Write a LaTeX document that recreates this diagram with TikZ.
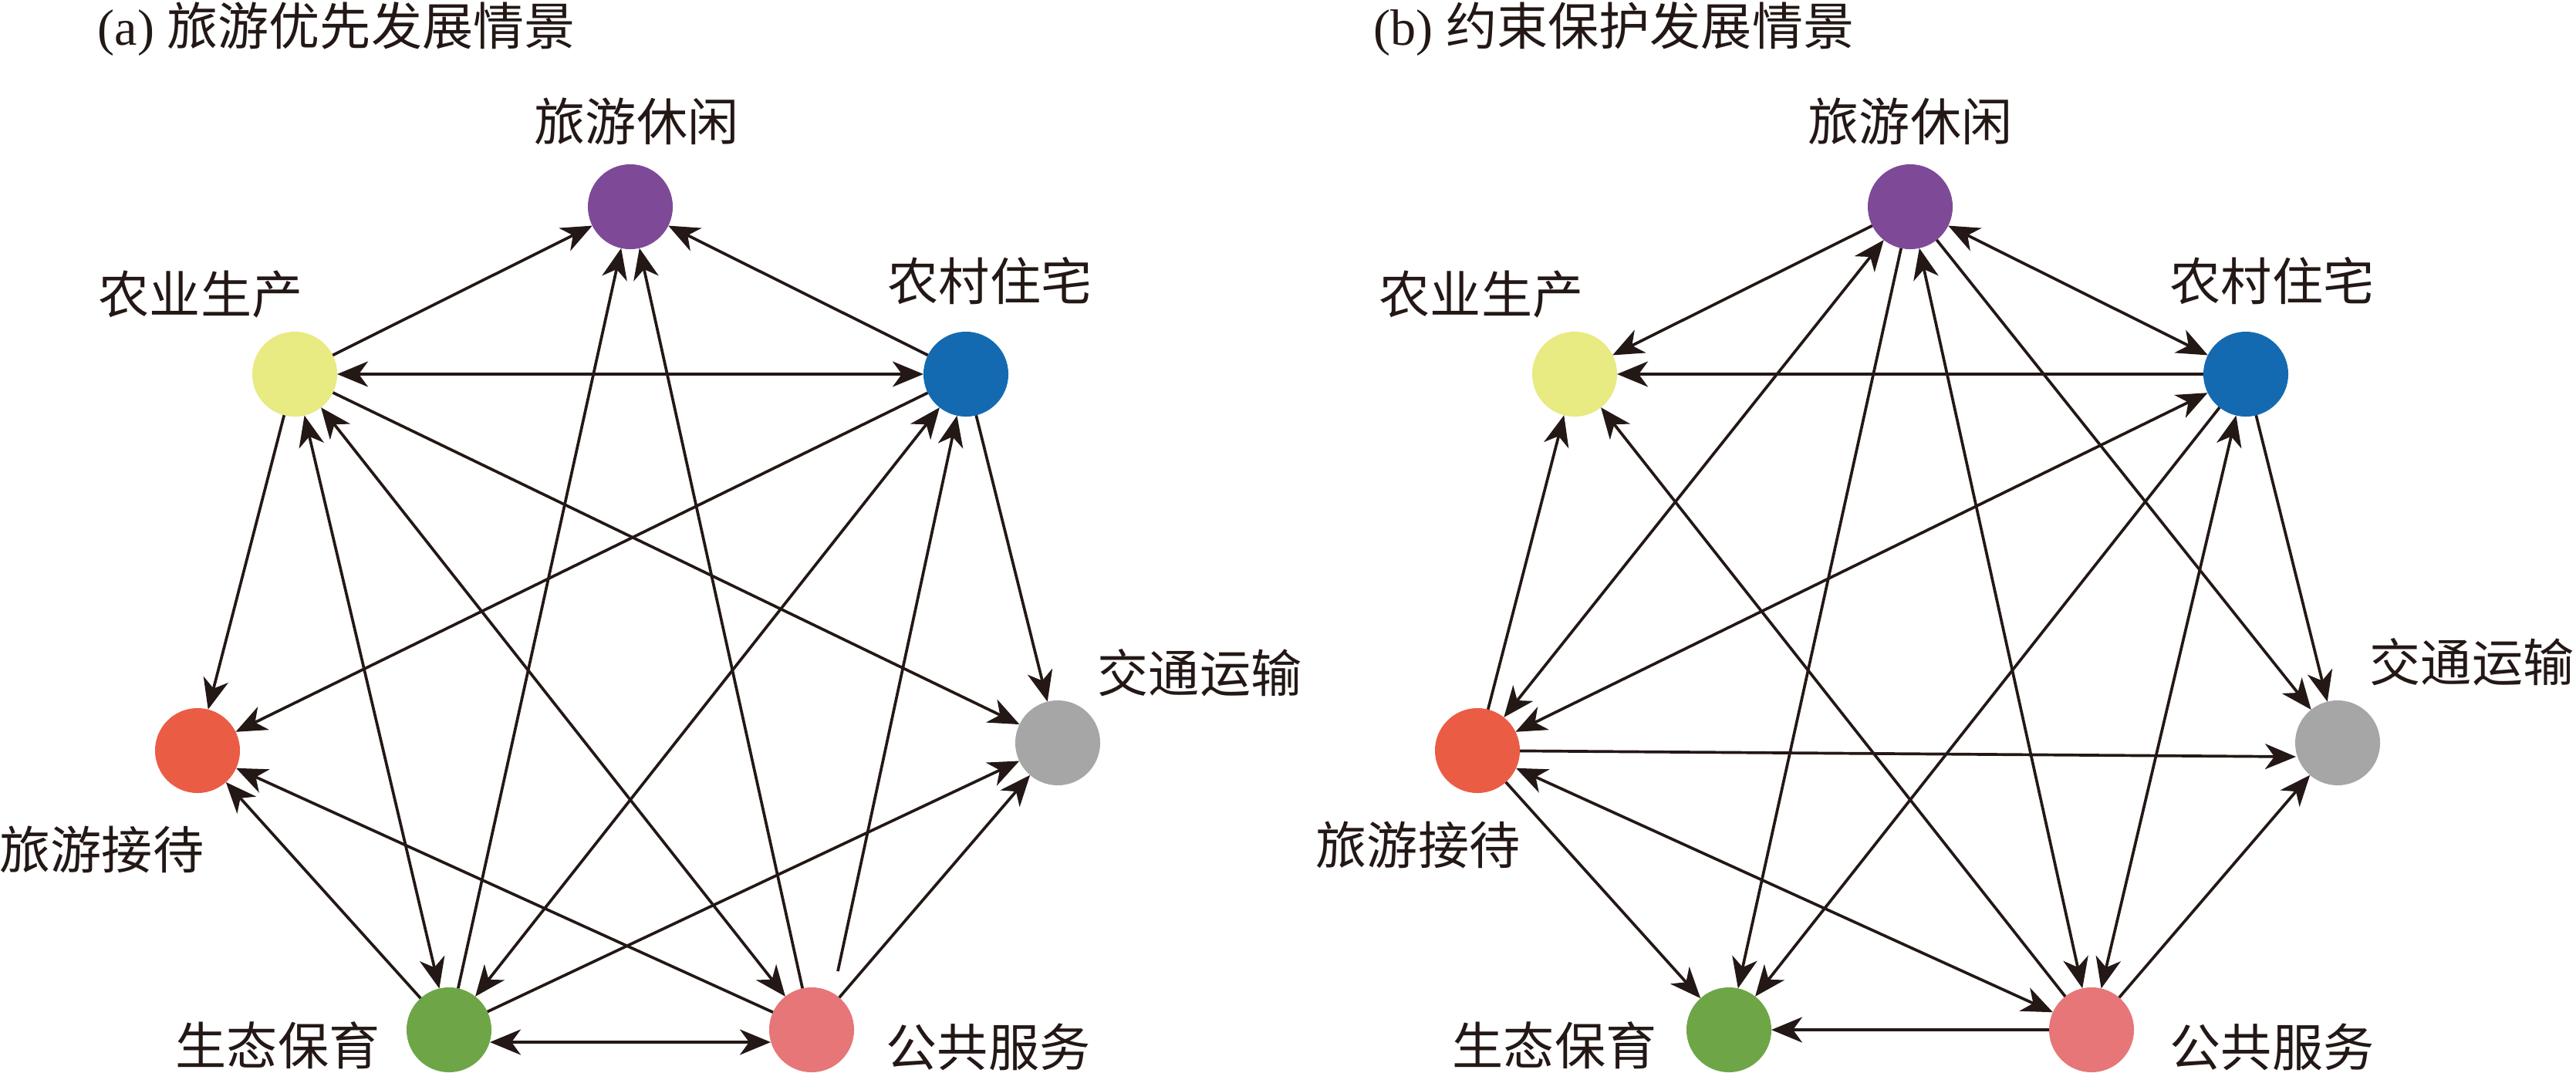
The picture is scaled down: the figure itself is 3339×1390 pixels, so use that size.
\documentclass[tikz,border=0pt]{standalone}
\usepackage{fontspec}
\setmainfont{Liberation Serif}
\newfontfamily\cjk{Noto Sans CJK SC}
\usetikzlibrary{arrows.meta}
\definecolor{cpurple}{RGB}{126,74,152}
\definecolor{cyellow}{RGB}{232,234,130}
\definecolor{cblue}{RGB}{20,106,176}
\definecolor{cred}{RGB}{234,93,68}
\definecolor{cgray}{RGB}{166,166,166}
\definecolor{cgreen}{RGB}{110,166,71}
\definecolor{cpink}{RGB}{230,118,120}
\definecolor{linec}{RGB}{35,24,21}
\tikzset{hd/.tip={Stealth[length=4mm,width=3.3mm,inset=1.2mm]}}
\begin{document}
\begin{tikzpicture}[x=0.01cm,y=-0.01cm,
  dot/.style={circle,minimum size=1.1cm,inner sep=0pt,outer sep=0pt,draw=none},
  lbl/.style={inner sep=0pt,font=\cjk\fontsize{18.8}{22}\selectfont,text=linec},
  ttl/.style={inner sep=0pt,anchor=west,font=\fontsize{18.8}{22}\selectfont,text=linec},
  edge/.style={line width=1.05pt,draw=linec,-hd},
  bi/.style={line width=1.05pt,draw=linec,hd-hd},
  plain/.style={line width=1.05pt,draw=linec}
]
\fill[white] (0,0) rectangle (3339,1390);
\useasboundingbox (0,0) rectangle (3339,1390);

% titles
\node[ttl] (ta) at (126,38) {(a) {\cjk 旅游优先发展情景}};
\node[ttl] (tb) at (1780,38) {(b) {\cjk 约束保护发展情景}};

% panel a nodes
\node[dot,fill=cpurple] (aP)  at (817,268) {};
\node[dot,fill=cyellow] (aY)  at (382,485) {};
\node[dot,fill=cblue]   (aB)  at (1252,485) {};
\node[dot,fill=cred]    (aR)  at (256,973) {};
\node[dot,fill=cgray]   (aGy) at (1371,963) {};
\node[dot,fill=cgreen]  (aGn) at (582,1335) {};
\node[dot,fill=cpink]   (aPk) at (1052,1335) {};

% panel a labels
\node[lbl] (laP)  at (825,157) {旅游休闲};
\node[lbl] (laY)  at (260,382) {农业生产};
\node[lbl] (laB)  at (1283,364) {农村住宅};
\node[lbl] (laR)  at (132,1101) {旅游接待};
\node[lbl] (laGy) at (1555,872) {交通运输};
\node[lbl] (laGn) at (360,1355) {生态保育};
\node[lbl] (laPk) at (1281,1357) {公共服务};

% panel a helper coordinates
\coordinate (aPB) at (1086,1259);
\coordinate (aGP) at (635,1351);
\coordinate (aPG) at (999,1351);

% panel a edges
\draw[edge] (aY) -- (aP);
\draw[edge] (aB) -- (aP);
\draw[edge] (aGn) -- (aP);
\draw[edge] (aPk) -- (aP);
\draw[bi] (aY) -- (aB);
\draw[edge] (aY) -- (aR);
\draw[bi] (aY) -- (aGn);
\draw[bi] (aY) -- (aPk);
\draw[edge] (aY) -- (aGy);
\draw[edge] (aB) -- (aR);
\draw[bi] (aB) -- (aGn);
\draw[edge] (aPB) -- (aB);
\draw[edge] (aB) -- (aGy);
\draw[edge] (aPk) -- (aR);
\draw[edge] (aGn) -- (aR);
\draw[edge] (aGn) -- (aGy);
\draw[edge] (aPk) -- (aGy);
\draw[bi] (aGP) -- (aPG);

% panel b nodes
\node[dot,fill=cpurple] (bP)  at (2476,268) {};
\node[dot,fill=cyellow] (bY)  at (2041,485) {};
\node[dot,fill=cblue]   (bB)  at (2911,485) {};
\node[dot,fill=cred]    (bR)  at (1915,973) {};
\node[dot,fill=cgray]   (bGy) at (3030,963) {};
\node[dot,fill=cgreen]  (bGn) at (2241,1335) {};
\node[dot,fill=cpink]   (bPk) at (2711,1335) {};

% panel b labels
\node[lbl] (lbP)  at (2476,157) {旅游休闲};
\node[lbl] (lbY)  at (1920,382) {农业生产};
\node[lbl] (lbB)  at (2945,364) {农村住宅};
\node[lbl] (lbR)  at (1838,1095) {旅游接待};
\node[lbl] (lbGy) at (3204,858) {交通运输};
\node[lbl] (lbGn) at (2015,1355) {生态保育};
\node[lbl] (lbPk) at (2945,1357) {公共服务};

\coordinate (bRG) at (2976,981);

% panel b edges
\draw[edge] (bP) -- (bY);
\draw[bi] (bP) -- (bB);
\draw[edge] (bB) -- (bY);
\draw[edge] (bR) -- (bY);
\draw[bi] (bP) -- (bR);
\draw[edge] (bPk) -- (bY);
\draw[edge] (bP) -- (bGn);
\draw[bi] (bR) -- (bB);
\draw[bi] (bP) -- (bPk);
\draw[edge] (bB) -- (bGn);
\draw[edge] (bP) -- (bGy);
\draw[bi] (bB) -- (bPk);
\draw[edge] (bB) -- (bGy);
\draw[edge] (bR) -- (bRG);
\draw[bi] (bR) -- (bPk);
\draw[edge] (bR) -- (bGn);
\draw[edge] (bPk) -- (bGn);
\draw[edge] (bPk) -- (bGy);
\end{tikzpicture}
\end{document}
